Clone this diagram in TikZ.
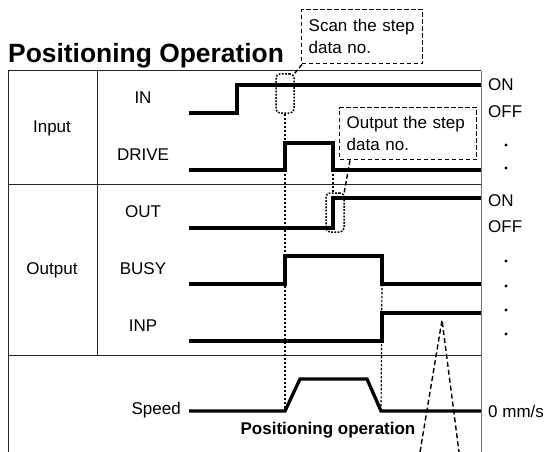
\documentclass[tikz,border=0pt]{standalone}
\usepackage{fontspec}
\setmainfont{Liberation Sans}

\tikzset{
  sig/.style={line width=3.3pt},
  frame/.style={line width=1pt, black!85},
  guide/.style={line width=1.2pt, dash pattern=on 2.4pt off 1.6pt},
  pick/.style={draw, line width=1.5pt, dash pattern=on 1.8pt off 1.4pt, rounded corners=4pt, minimum width=18pt, minimum height=39pt, inner sep=0pt},
  callout/.style={draw, line width=1.4pt, dash pattern=on 4.5pt off 2.5pt, align=left, inner xsep=7pt, inner ysep=0pt},
  lbl/.style={font=\fontsize{17}{22}\selectfont}
}

\begin{document}
\begin{tikzpicture}[x=1pt,y=-1pt]
 \useasboundingbox (0,0) rectangle (549,452);

 \node[anchor=base west, inner sep=0pt, font=\fontsize{26.4}{28}\selectfont\bfseries] (title) at (8,63) {Positioning Operation};

 % frame of the table
 \draw[frame] (8,452) -- (8,71) -- (481,71);
 \draw[frame, black!55] (481,71) -- (481,452);
 \draw[frame] (97,71) -- (97,355);
 \draw[frame] (8,184) -- (481,184);
 \draw[frame] (8,355) -- (481,355);

 \node[lbl] (input) at (52,128) {Input};
 \node[lbl] (output) at (52,270) {Output};
 \node[lbl] (in) at (143,98) {IN};
 \node[lbl] (drive) at (143,155) {DRIVE};
 \node[lbl] (out) at (143,212) {OUT};
 \node[lbl] (busy) at (143,269) {BUSY};
 \node[lbl] (inp) at (143,326) {INP};
 \node[lbl, anchor=east, inner sep=0pt] (speed) at (181,410) {Speed};

 % signals
 \draw[sig] (189,113) -- (237,113) -- (237,85) -- (481,85); % IN
 \draw[sig] (189,170) -- (285,170) -- (285,143) -- (333,143) -- (333,170) -- (481,170); % DRIVE
 \draw[sig] (189,228) -- (333,228) -- (333,198) -- (481,198); % OUT
 \draw[sig] (189,284) -- (285,284) -- (285,256) -- (382,256) -- (382,284) -- (481,284); % BUSY
 \draw[sig] (189,341) -- (382,341) -- (382,313) -- (481,313); % INP
 \draw[sig, line join=miter] (189,411) -- (285,411) -- (300,379) -- (367,379) -- (381,411) -- (481,411); % Speed

 % levels on the right
 \node[lbl, anchor=west, inner sep=0pt] (on1) at (488,85) {ON};
 \node[lbl, anchor=west, inner sep=0pt] (off1) at (488,112) {OFF};
 \node[lbl, anchor=west, inner sep=0pt] (on2) at (488,201) {ON};
 \node[lbl, anchor=west, inner sep=0pt] (off2) at (488,227) {OFF};
 \node[lbl, anchor=west, inner sep=0pt] (zero) at (488,411) {0 mm/s};
 \foreach \y in {145,168,261,286,310,334}
   \fill (506,\y) circle (1.6pt);

 % callouts
 \node[pick] (scanpick) at (285,93.5) {};
 \node[pick] (outpick) at (335,212.5) {};
 \node[callout, lbl, text width=107pt, minimum height=54pt, anchor=north west] (scan) at (301,9) {Scan the step\\data no.};
 \node[callout, lbl, text width=123pt, minimum height=52pt, anchor=north west] (outno) at (339,107) {Output the step\\data no.};
 \draw[line width=1.4pt, dash pattern=on 4.5pt off 2.5pt] ([xshift=1pt]scan.south west) -- (scanpick.north east);
 \draw[line width=1.4pt, dash pattern=on 4.5pt off 2.5pt] ([xshift=11pt]outno.south west) -- ([xshift=-1pt,yshift=-3pt]outpick.north east);

 % timing guides
 \coordinate (t1) at (285,411);
 \coordinate (t2) at (381,411);
 \draw[guide] (scanpick.south) -- (t1);
 \draw[guide] (333,170) -- (outpick.north -| 333,0);
 \draw[guide] (382,284) -- (t2);

 \node[font=\fontsize{17}{20}\selectfont\bfseries] (posop) at (328,430) {Positioning operation};
 \draw[line width=1.4pt, dash pattern=on 5pt off 3pt] (420,452) -- (442,320) -- (459,452);

\end{tikzpicture}
\end{document}
